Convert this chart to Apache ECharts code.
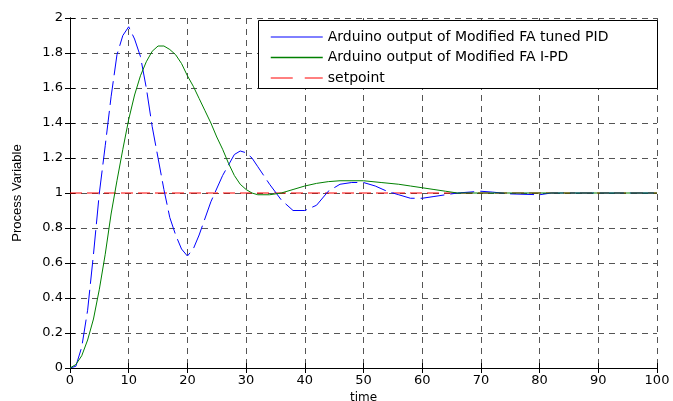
<!DOCTYPE html>
<html><head><meta charset="utf-8">
<script src="https://cdn.jsdelivr.net/npm/echarts@6/dist/echarts.min.js"></script>
<style>html,body{margin:0;padding:0;background:#fff}#c{width:673px;height:401px}</style>
</head><body><div id="c"></div>
<script>
var xTicks = [0,10,20,30,40,50,60,70,80,90,100];
var yTicks = [0,0.2,0.4,0.6,0.8,1,1.2,1.4,1.6,1.8,2];
var pidData = [[0,0],[1,0.01],[2,0.12],[3,0.33],[4,0.65],[5,1.0],[6,1.27],[7,1.55],[8,1.79],[9,1.9],[10,1.95],[11,1.88],[12,1.78],[13,1.6],[14,1.38],[15,1.2],[16,1.02],[17,0.86],[18,0.76],[19,0.68],[20,0.64],[21,0.68],[22,0.76],[24,0.95],[26,1.1],[28,1.22],[29,1.24],[30,1.23],[31,1.2],[32,1.15],[34,1.05],[36,0.96],[38,0.9],[40,0.9],[42,0.93],[44,1.01],[46,1.05],[48,1.06],[50,1.06],[52,1.04],[54,1.01],[56,0.99],[58,0.97],[60,0.97],[62,0.98],[64,0.99],[66,1.0],[70,1.01],[72,1.005],[75,0.995],[80,0.99],[82,1.0],[100,1.0]];
var ipdData = [[0,0],[1,0.02],[2,0.07],[3,0.16],[4,0.28],[5,0.45],[6,0.65],[7,0.88],[8,1.07],[9,1.25],[10,1.42],[11,1.56],[12,1.67],[13,1.75],[14,1.81],[15,1.84],[16,1.84],[17,1.82],[18,1.79],[19,1.74],[20,1.67],[21,1.61],[22,1.54],[23,1.47],[24,1.4],[25,1.32],[26,1.25],[27,1.17],[28,1.1],[29,1.05],[30,1.02],[31,1.0],[32,0.99],[34,0.99],[36,1.0],[38,1.02],[40,1.04],[42,1.055],[44,1.065],[46,1.07],[50,1.07],[53,1.06],[56,1.05],[58,1.04],[60,1.03],[62,1.02],[64,1.01],[66,1.0],[100,1.0]];
var setpointData = [[0,1],[100,1]];
var seriesNames = ['Arduino output of Modified FA tuned PID','Arduino output of Modified FA I-PD','setpoint'];

var FONT = 'DejaVu Sans';
var chart = echarts.init(document.getElementById('c'), null, {renderer:'canvas'});
var split = {show:true, lineStyle:{color:'#555', type:[6,5], width:1}};
chart.setOption({
  animation:false,
  backgroundColor:'#fff',
  grid:{left:70,right:16,top:18,bottom:33,containLabel:false,outerBoundsMode:'none'},
  xAxis:[{type:'value',min:xTicks[0],max:xTicks[xTicks.length-1],interval:10,
    name:'time',nameLocation:'middle',nameGap:21,nameTextStyle:{fontFamily:FONT,fontSize:12,color:'#000'},
    axisLine:{show:true,onZero:false,lineStyle:{color:'#000',width:1}},
    axisTick:{show:true,inside:true,length:5,lineStyle:{color:'#000'}},
    axisLabel:{fontFamily:FONT,fontSize:13,color:'#000',margin:6},
    splitLine:split},
   {type:'value',position:'top',min:0,max:100,interval:10,
    axisLine:{show:true,lineStyle:{color:'#000',width:1}},
    axisTick:{show:true,inside:true,length:5,lineStyle:{color:'#000'}},
    axisLabel:{show:false},splitLine:{show:false}}],
  yAxis:[{type:'value',min:yTicks[0],max:yTicks[yTicks.length-1],interval:0.2,
    name:'Process Variable',nameLocation:'middle',nameGap:46,nameRotate:90,nameTextStyle:{fontFamily:'Liberation Sans',fontSize:13,color:'#000'},
    axisLine:{show:true,onZero:false,lineStyle:{color:'#000',width:1}},
    axisTick:{show:true,inside:true,length:5,lineStyle:{color:'#000'}},
    axisLabel:{fontFamily:FONT,fontSize:13,color:'#000',margin:7},
    splitLine:split},
   {type:'value',position:'right',min:0,max:2,interval:0.2,
    axisLine:{show:true,lineStyle:{color:'#000',width:1}},
    axisTick:{show:true,inside:true,length:5,lineStyle:{color:'#000'}},
    axisLabel:{show:false},splitLine:{show:false}}],
  graphic:[{type:'rect',z:50,shape:{x:258.5,y:20.5,width:399,height:68},style:{fill:'#fff',stroke:'#000',lineWidth:1}}],
  legend:{show:true,orient:'vertical',left:270,top:30,padding:0,itemGap:6.5,itemWidth:52,itemHeight:14,z:60,
    textStyle:{fontFamily:FONT,fontSize:14,color:'#000'},
    itemStyle:{opacity:0,borderWidth:0},
    lineStyle:{width:1},
    data:[{name:seriesNames[0],lineStyle:{type:'solid',width:1}},
          {name:seriesNames[1],lineStyle:{width:1.5}},
          {name:seriesNames[2],lineStyle:{type:[22,12],width:1}}]},
  series:[
    {name:seriesNames[0],type:'line',data:pidData,showSymbol:false,symbol:'none',z:3,
     lineStyle:{color:'#0000ff',width:1,type:[24,6]},itemStyle:{color:'#0000ff'}},
    {name:seriesNames[1],type:'line',data:ipdData,showSymbol:false,symbol:'none',z:3,
     lineStyle:{color:'#008000',width:1,type:'solid'},itemStyle:{color:'#008000'}},
    {name:seriesNames[2],type:'line',data:setpointData,showSymbol:false,symbol:'none',z:2,
     lineStyle:{color:'#ff0000',width:1,type:[12,5]},itemStyle:{color:'#ff0000'}}
  ]
});
</script></body></html>
